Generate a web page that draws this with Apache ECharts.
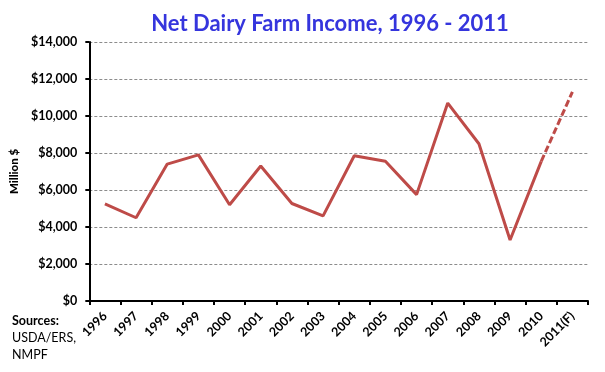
<!DOCTYPE html>
<html><head><meta charset="utf-8">
<script src="https://cdn.jsdelivr.net/npm/echarts@6/dist/echarts.min.js"></script>
<style>html,body{margin:0;padding:0;background:#fff}#c{width:605px;height:372px}</style>
</head><body><div id="c"></div>
<script>
const titleText = 'Net Dairy Farm Income, 1996 - 2011';
const years = ['1996','1997','1998','1999','2000','2001','2002','2003','2004','2005','2006','2007','2008','2009','2010','2011(F)'];
const income = [5250, 4500, 7400, 7900, 5200, 7300, 5270, 4600, 7850, 7550, 5750, 10700, 8500, 3300, 7550, 11300];
const forecastFrom = 14; // index where forecast (dashed) segment starts
const yTicks = [0, 2000, 4000, 6000, 8000, 10000, 12000, 14000];
const sourceLines = ['Sources:', 'USDA/ERS,', 'NMPF'];

const actual = income.map((v, i) => i <= forecastFrom ? v : null);
const forecast = income.map((v, i) => i >= forecastFrom ? v : null);
const FONT = 'Lato';
const RED = '#BE4B48';

const chart = echarts.init(document.getElementById('c'), null, {renderer: 'canvas'});
chart.setOption({
  animation: false,
  backgroundColor: '#fff',
  title: {
    text: titleText, left: 325, top: 8, textAlign: 'center',
    textStyle: {fontFamily: FONT, fontWeight: 'bold', fontSize: 22, color: '#3535DD'}
  },
  grid: {left: 86, right: 17, top: 42, bottom: 71, containLabel: false},
  xAxis: {
    type: 'category', data: years, boundaryGap: true,
    axisLine: {lineStyle: {color: '#000', width: 2}},
    axisTick: {show: true, length: 4, lineStyle: {color: '#000', width: 2}},
    axisLabel: {rotate: 45, margin: 13, fontFamily: FONT, fontWeight: 'bold', fontSize: 12.5, color: '#000', interval: 0}
  },
  yAxis: {
    type: 'value', min: yTicks[0], max: yTicks[yTicks.length - 1], interval: 2000,
    name: 'Million $', nameLocation: 'middle', nameGap: 64, nameRotate: 90,
    nameTextStyle: {fontFamily: FONT, fontWeight: 900, fontSize: 11.5, color: '#000'},
    axisLine: {show: true, lineStyle: {color: '#000', width: 2}},
    axisTick: {show: true, length: 4, lineStyle: {color: '#000', width: 2}},
    axisLabel: {margin: 12, fontFamily: FONT, fontWeight: 'bold', fontSize: 12.5, color: '#000',
      formatter: v => '$' + v.toLocaleString('en-US')},
    splitLine: {show: true, lineStyle: {color: '#8c8c8c', type: [3, 2], width: 1}}
  },
  series: [
    {type: 'line', data: actual, symbol: 'none', connectNulls: false,
     lineStyle: {color: RED, width: 3}, itemStyle: {color: RED}},
    {type: 'line', data: forecast, symbol: 'none', connectNulls: false,
     lineStyle: {color: RED, width: 3, type: [7, 3]}, itemStyle: {color: RED}}
  ],
  graphic: sourceLines.map((t, i) => ({
    type: 'text', left: 12, top: 314 + i * 17,
    style: {text: t, fontFamily: FONT, fontSize: 12.5, fontWeight: i === 0 ? 'bold' : 'normal', fill: '#000'}
  }))
});
</script></body></html>
